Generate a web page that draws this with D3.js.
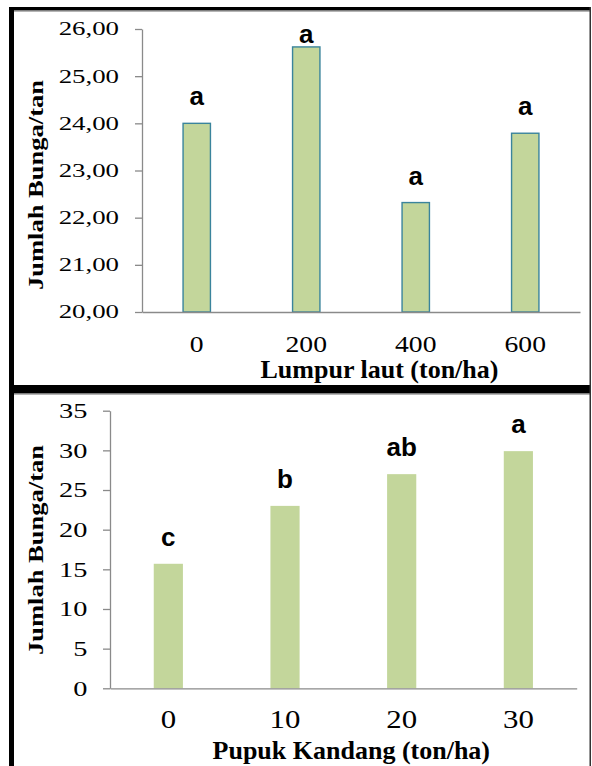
<!DOCTYPE html>
<html>
<head>
<meta charset="utf-8">
<script src="https://cdn.jsdelivr.net/npm/d3@7"></script>
<style>
  body { margin: 0; background: #fff; }
  svg { display: block; }
</style>
</head>
<body>
<svg id="chart" width="592" height="766"></svg>
<script>
// values
const lumpurCats = ['0', '200', '400', '600']
const lumpurVals = [24.00, 25.62, 22.32, 23.79]
const lumpurLetters = ['a', 'a', 'a', 'a']
const lumpurTicks = [20, 21, 22, 23, 24, 25, 26]

const kandangCats = ['0', '10', '20', '30']
const kandangVals = [15.7, 23.0, 27.0, 29.9]
const kandangLetters = ['c', 'b', 'ab', 'a']
const kandangTicks = [0, 5, 10, 15, 20, 25, 30, 35]

const serif = '"Liberation Serif", "Times New Roman", serif'
const sans = '"Liberation Sans", Arial, sans-serif'
const barFill = '#c3d69b'
const axisColor = '#8a8a8a'

// indonesian style decimals: 26,00
const idLocale = d3.formatLocale({decimal: ',', thousands: '.', grouping: [3], currency: ['', '']})

const svg = d3.select('#chart')

// the source text is drawn wider than the font, stretch it the same way
function widen (sel, k) {
  sel.each(function () {
    let w = this.getComputedTextLength()
    d3.select(this).attr('textLength', w * k).attr('lengthAdjust', 'spacingAndGlyphs')
  })
}

function drawPanel (p) {
  let x = d3.scaleBand().domain(p.cats).range([p.left, p.right])
    .paddingInner(0.75).paddingOuter(0.375)
  let y = d3.scaleLinear().domain(p.domain).range([p.bottom, p.top])

  // bars
  svg.append('g').selectAll('rect')
    .data(p.vals)
    .join('rect')
    .attr('x', (d, i) => x(p.cats[i]))
    .attr('y', d => y(d))
    .attr('width', x.bandwidth())
    .attr('height', d => y(p.domain[0]) - y(d))
    .attr('fill', barFill)
    .attr('stroke', p.barStroke || 'none')
    .attr('stroke-width', 1.4)

  // y axis
  let yAxis = svg.append('g')
    .attr('transform', `translate(${p.left},0)`)
    .call(d3.axisLeft(y).tickValues(p.ticks).tickFormat(p.fmt)
      .tickSize(7).tickSizeOuter(0).tickPadding(p.yPad))
  yAxis.attr('font-family', serif).attr('font-size', p.yFont)
  yAxis.selectAll('path, line').attr('stroke', axisColor).attr('stroke-width', 1.3)
  yAxis.selectAll('text').attr('fill', '#000')
  widen(yAxis.selectAll('text'), p.yWiden)

  // x axis
  let xAxis = svg.append('g')
    .attr('transform', `translate(0,${p.bottom})`)
    .call(d3.axisBottom(x).tickSize(0).tickSizeOuter(0).tickPadding(p.xPad))
  xAxis.attr('font-family', serif).attr('font-size', p.xFont)
  xAxis.selectAll('path, line').attr('stroke', axisColor).attr('stroke-width', 1.3)
  xAxis.selectAll('text').attr('fill', '#000')
  widen(xAxis.selectAll('text'), p.xWiden)

  // significance letters
  svg.append('g').selectAll('text')
    .data(p.letters)
    .join('text')
    .attr('x', (d, i) => x(p.cats[i]) + x.bandwidth() / 2)
    .attr('y', (d, i) => Math.max(y(p.vals[i]) - 18, p.top + 14))
    .attr('text-anchor', 'middle')
    .attr('font-family', sans)
    .attr('font-weight', 'bold')
    .attr('font-size', 26)
    .text(d => d)

  // axis titles
  svg.append('text')
    .attr('transform', `translate(${p.yTitleX},${p.yTitleY}) rotate(-90)`)
    .attr('text-anchor', 'middle')
    .attr('font-family', serif)
    .attr('font-weight', 'bold')
    .attr('font-size', p.yTitleFont)
    .attr('textLength', 210)
    .attr('lengthAdjust', 'spacingAndGlyphs')
    .text('Jumlah Bunga/tan')

  svg.append('text')
    .attr('x', p.xTitleX)
    .attr('y', p.xTitleY)
    .attr('text-anchor', 'middle')
    .attr('font-family', serif)
    .attr('font-weight', 'bold')
    .attr('font-size', p.xTitleFont)
    .text(p.xTitle)
}

drawPanel({
  cats: lumpurCats, vals: lumpurVals, letters: lumpurLetters, ticks: lumpurTicks,
  fmt: idLocale.format('.2f'), domain: [20, 26],
  left: 142, right: 580, top: 29, bottom: 312,
  barStroke: '#3a849c',
  yFont: 18.5, yWiden: 1.45, yPad: 16,
  xFont: 23, xWiden: 1.2, xPad: 23.7,
  yTitleX: 43, yTitleY: 185, yTitleFont: 21,
  xTitle: 'Lumpur laut (ton/ha)', xTitleX: 379.5, xTitleY: 378, xTitleFont: 26
})

drawPanel({
  cats: kandangCats, vals: kandangVals, letters: kandangLetters, ticks: kandangTicks,
  fmt: d3.format('d'), domain: [0, 35],
  left: 110, right: 576.7, top: 410.7, bottom: 688.3,
  yFont: 21, yWiden: 1.35, yPad: 15.7,
  xFont: 24.5, xWiden: 1.26, xPad: 22.5,
  yTitleX: 43, yTitleY: 550, yTitleFont: 21.5,
  xTitle: 'Pupuk Kandang (ton/ha)', xTitleX: 351.3, xTitleY: 759, xTitleFont: 26
})

// frames round the two figures
let frame = svg.append('g')
frame.append('line').attr('x1', 14).attr('x2', 590).attr('y1', 11.5).attr('y2', 11.5)
  .attr('stroke', '#b5b5b5').attr('stroke-width', 1)
frame.append('line').attr('x1', 14).attr('x2', 590).attr('y1', 394.5).attr('y2', 394.5)
  .attr('stroke', '#b5b5b5').attr('stroke-width', 1)
frame.append('rect').attr('x', 9).attr('y', 7).attr('width', 582).attr('height', 3.5).attr('fill', '#000')
frame.append('rect').attr('x', 9).attr('y', 385).attr('width', 582).attr('height', 8.5).attr('fill', '#000')
frame.append('rect').attr('x', 9).attr('y', 7).attr('width', 5).attr('height', 759).attr('fill', '#000')
frame.append('rect').attr('x', 589.5).attr('y', 7).attr('width', 1.5).attr('height', 759).attr('fill', '#333')
</script>
</body>
</html>
